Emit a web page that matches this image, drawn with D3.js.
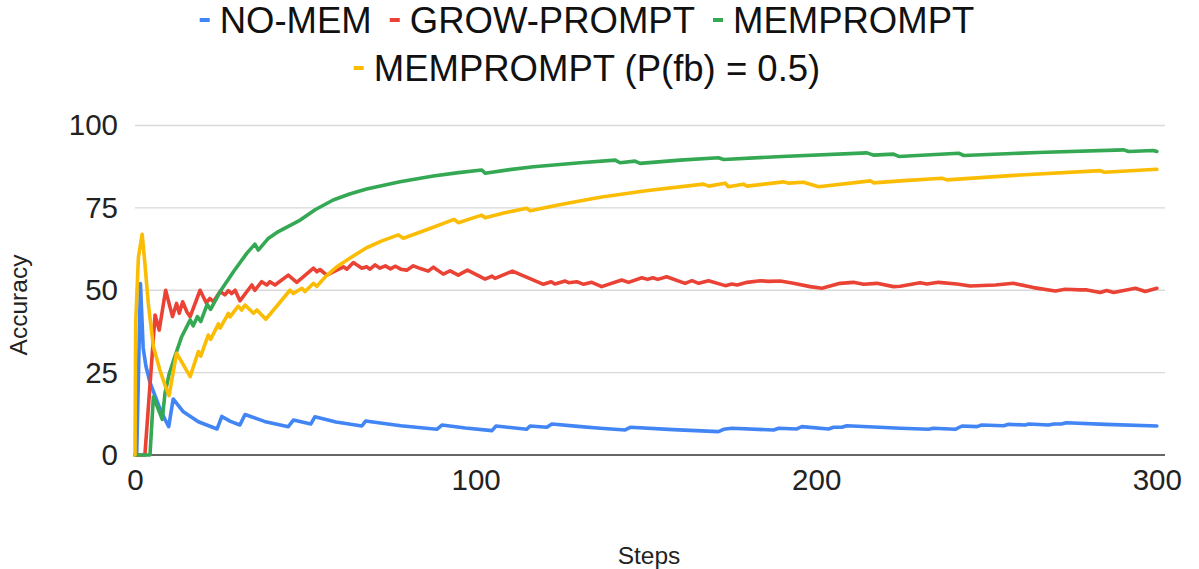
<!DOCTYPE html>
<html>
<head>
<meta charset="utf-8">
<script src="https://cdn.jsdelivr.net/npm/d3@7"></script>
<style>
  html, body { margin: 0; padding: 0; background: #fff; }
  svg { display: block; }
  text { font-family: "Liberation Sans", Arial, sans-serif; }
</style>
</head>
<body>
<svg id="chart" width="1199" height="569"></svg>
<script>
// ---------- DATA ----------
const seriesNames = ["NO-MEM", "GROW-PROMPT", "MEMPROMPT", "MEMPROMPT (P(fb) = 0.5)"];
const seriesColors = ["#4285F4", "#EA4335", "#34A853", "#FBBC04"];
const xTicks = [0, 100, 200, 300];
const yTicks = [0, 25, 50, 75, 100];

// [step, accuracy]
const noMem = [[0,0],[0.5,0],[1.6,52],[2.4,32.5],[3.2,27],[4.4,22],[6.9,15.2],[8.8,10.8],[9.9,8.6],[11.2,17],[14.2,13.1],[18.6,10.1],[24.1,7.9],[25.5,11.7],[28,10.2],[30.8,9.1],[32.3,12.3],[38,10.2],[45,8.6],[46.5,10.6],[51.6,9.4],[52.8,11.6],[59,10],[66.6,8.8],[67.7,10.3],[78,8.9],[88.6,7.8],[90.1,9.1],[97,8.2],[104.8,7.4],[106,8.8],[115,7.8],[116,8.8],[120.9,8.4],[122.4,9.4],[130,8.7],[136.6,8.1],[143.9,7.6],[145.4,8.4],[158,7.7],[171.3,7.1],[172.8,7.8],[175.2,8.1],[187.5,7.6],[189,8.1],[194.3,7.9],[195.8,8.6],[203.6,7.9],[205.1,8.4],[207.5,8.4],[209,8.9],[218.5,8.4],[224.7,8.1],[233,7.8],[234.4,8.1],[240.8,7.8],[242.8,8.8],[247.2,8.6],[248.6,9.1],[255,8.9],[256.5,9.3],[261.4,9.1],[262.4,9.4],[268.2,9.1],[269.7,9.4],[272,9.4],[273.4,9.8],[285,9.3],[300,8.8]];

const growPrompt = [[0,0],[2.9,0],[5.9,42.5],[7.1,37.9],[9,50],[11,42],[12.2,46],[13,43],[14,46.5],[15.2,43.5],[16.2,42],[19.1,50],[20.9,46.2],[22,47.5],[23,46.5],[25,49.6],[26.4,48.6],[27.4,49.9],[28.4,49],[29.4,50],[30.8,46.8],[34.3,51.6],[35.2,50],[37.2,52.6],[38.7,51.6],[39.6,52.6],[41.1,51.6],[45,54.6],[47.5,52.4],[52.4,56.7],[53.4,55.6],[54.3,56.3],[56.3,54.6],[61.2,57.1],[62.2,56.4],[64.1,58.4],[66.6,56.7],[68,57.1],[69,56.4],[70.5,57.7],[71.9,56.7],[73.5,57.4],[75,56.5],[76.5,57.3],[78,56.4],[79.8,56.1],[81.7,57.4],[84,56.5],[86.1,55.8],[87.6,57],[90.5,54.9],[92.5,55.9],[94.9,54.6],[97.6,56.1],[102.8,53.4],[104.8,54.3],[105.7,53.6],[110.8,55.8],[119.9,51.8],[122.2,52.6],[123.3,51.9],[126.3,52.8],[127.3,52.3],[129.7,52.6],[131.7,51.8],[134.1,52.4],[137,51.1],[142.9,53.1],[144.9,52.4],[148.8,53.8],[150.5,53.3],[152,53.8],[153.5,53.3],[156.1,54.1],[161.5,52.1],[163.5,52.9],[165.5,52.1],[168.4,52.9],[173.3,51.4],[175.2,51.9],[176.8,51.6],[179.7,52.4],[183.6,52.9],[186,52.7],[189.4,52.8],[193.3,52.1],[198.2,51.1],[201.7,50.6],[207,52.1],[210.9,52.4],[213.9,51.8],[217.8,52.1],[222.7,51.1],[224.7,51.2],[230.5,52.3],[232.5,51.9],[235.9,52.4],[241.3,51.9],[245.2,51.3],[252.6,51.6],[257.9,52.1],[263.8,50.8],[270.2,49.8],[273.1,50.3],[277.5,50.1],[279.5,50.1],[283.4,49.3],[285.3,49.9],[287.3,49.3],[293.7,50.6],[296.6,49.6],[300,50.6]];

const memPrompt = [[0,0],[4.4,0],[5.4,17.7],[8,10.8],[8.8,18.7],[10,24.5],[11.5,29.3],[13.7,35.9],[16.2,41],[17.1,39.2],[18.3,42],[19.3,40.5],[21.2,45.7],[22.2,44.2],[25,49.6],[28.9,55.6],[32.8,61.2],[35.2,64],[36.2,62.2],[39.2,65.8],[42.1,67.8],[48.5,71.3],[53,74.5],[58.2,77.4],[63,79.2],[68,80.7],[77.8,82.9],[87.6,84.7],[95,85.7],[101.8,86.5],[102.8,85.5],[110,86.6],[117,87.5],[130.7,88.7],[141,89.5],[142.4,88.7],[146.8,89.2],[148.3,88.5],[160,89.5],[171.3,90.2],[172.8,89.7],[190,90.6],[214.9,91.7],[216.8,91],[222.7,91.3],[224.2,90.6],[241.8,91.6],[243.3,90.9],[265,91.8],[290.3,92.6],[291.7,92.1],[299,92.4],[300,92.1]];

const memPromptHalf = [[0,0],[0.2,40],[1,60],[2.1,67],[2.9,58.2],[3.9,46],[5.4,32.9],[7.3,25.8],[8.8,21.2],[10,18],[12.2,30.9],[16.2,23.8],[18.6,31.4],[19.3,30],[21.5,36.4],[22.2,35.1],[24.5,39.8],[25,38.5],[27.4,43],[27.9,41.9],[30.3,45.2],[31.3,44],[32.3,45.5],[34.8,43],[35.8,44],[38.4,41.2],[45.5,50],[46.5,49],[49,50.6],[49.9,49.6],[52.4,52.1],[53.4,51.2],[56,54.2],[59.5,57.3],[63.5,60],[68,62.9],[72.5,65],[77.3,66.8],[78.8,65.8],[86,68.5],[93.7,71.5],[94.9,70.5],[101.8,72.8],[102.8,72],[108,73.4],[115,74.9],[116,74.1],[125,76],[136.6,78.2],[150,80.2],[166.9,82.2],[168.4,81.6],[173.3,82.5],[174.2,81.4],[178.6,82.2],[179.7,81.6],[190.4,82.9],[191.9,82.5],[196.3,82.8],[200.7,81.4],[215.9,83.2],[216.8,82.6],[224.7,83.2],[236.9,84],[238.4,83.5],[260,85],[283.4,86.3],[284.6,85.8],[300,86.7]];

const seriesData = [noMem, growPrompt, memPrompt, memPromptHalf];

// ---------- CHART ----------
const svg = d3.select("#chart");
const plotLeft = 135, plotRight = 1165, plotTop = 125.5, plotBottom = 455;

const x = d3.scaleLinear().domain([0, 302.4]).range([plotLeft, plotRight]);
const y = d3.scaleLinear().domain([0, 100]).range([plotBottom, plotTop]);

// gridlines
svg.append("g")
  .selectAll("line")
  .data(yTicks.filter(d => d > 0))
  .join("line")
  .attr("x1", plotLeft).attr("x2", plotRight)
  .attr("y1", d => y(d)).attr("y2", d => y(d))
  .attr("stroke", "#d9d9d9").attr("stroke-width", 1.3);

// y axis labels
const yAxis = svg.append("g")
  .attr("transform", `translate(${plotLeft},0)`)
  .call(d3.axisLeft(y).tickValues(yTicks).tickSize(0).tickPadding(17));
yAxis.select(".domain").remove();
yAxis.selectAll("text")
  .attr("font-size", 29.5)
  .attr("font-family", "Liberation Sans, Arial, sans-serif")
  .attr("fill", "#222");

// x axis
const xAxis = svg.append("g")
  .attr("transform", `translate(0,${plotBottom})`)
  .call(d3.axisBottom(x).tickValues(xTicks).tickSize(0).tickPadding(14));
xAxis.select(".domain").attr("stroke", "#333").attr("stroke-width", 1.5)
  .attr("d", `M${plotLeft},0H${plotRight}`);
xAxis.selectAll("text")
  .attr("font-size", 29.5)
  .attr("font-family", "Liberation Sans, Arial, sans-serif")
  .attr("fill", "#222");

// lines
const line = d3.line().x(d => x(d[0])).y(d => y(d[1]));
svg.append("g")
  .selectAll("path")
  .data(seriesData)
  .join("path")
  .attr("d", line)
  .attr("fill", "none")
  .attr("stroke", (d, i) => seriesColors[i])
  .attr("stroke-width", 3.6)
  .attr("stroke-linejoin", "round")
  .attr("stroke-linecap", "round");

// axis titles
svg.append("text")
  .attr("x", 649).attr("y", 564)
  .attr("text-anchor", "middle")
  .attr("font-size", 24.5)
  .attr("fill", "#222")
  .text("Steps");
svg.append("text")
  .attr("transform", "translate(27,305) rotate(-90)")
  .attr("text-anchor", "middle")
  .attr("font-size", 24.5)
  .attr("fill", "#222")
  .text("Accuracy");

// legend
const legendRows = [[0, 1, 2], [3]];
const legendBaselines = [33, 81];
const legendCenter = 587;
const legendFont = 36.5;
const markerW = 10, markerGap = 10, itemGap = 18;
legendRows.forEach((row, ri) => {
  const g = svg.append("g");
  let cx = 0;
  row.forEach((si, k) => {
    const item = g.append("g").attr("transform", `translate(${cx},0)`);
    item.append("rect")
      .attr("x", 0).attr("y", legendBaselines[ri] - 15)
      .attr("width", markerW).attr("height", 4)
      .attr("fill", seriesColors[si]);
    const t = item.append("text")
      .attr("x", markerW + markerGap).attr("y", legendBaselines[ri])
      .attr("font-size", legendFont)
      .attr("fill", "#111")
      .text(seriesNames[si]);
    cx += markerW + markerGap + t.node().getComputedTextLength() + itemGap;
  });
  const total = cx - itemGap;
  g.attr("transform", `translate(${legendCenter - total / 2},0)`);
});
</script>
</body>
</html>
